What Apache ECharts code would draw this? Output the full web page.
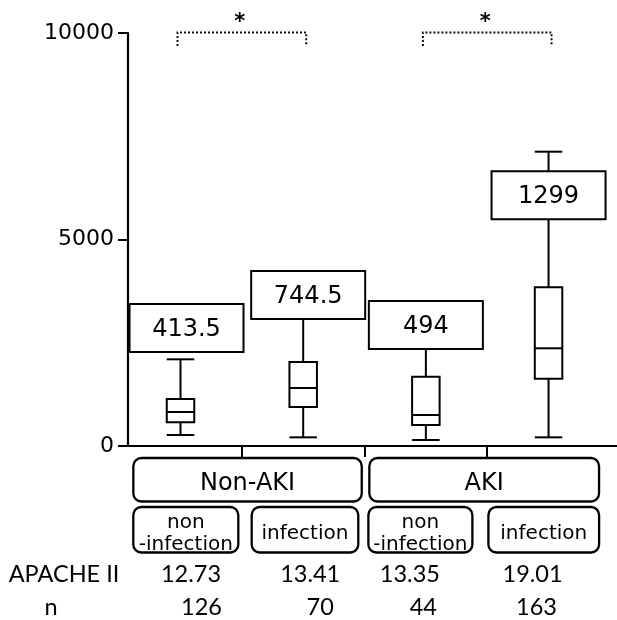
<!DOCTYPE html>
<html><head><meta charset="utf-8">
<script src="https://cdn.jsdelivr.net/npm/echarts@6/dist/echarts.min.js"></script>
<style>html,body{margin:0;padding:0;background:#fff}#c{width:617px;height:620px}</style>
</head><body><div id="c"></div>
<script>
// ---- data ----
const groups = ['Non-AKI', 'AKI'];
const groupCenters = [1.5, 3.5];
const subgroups = ['non\n-infection', 'infection', 'non\n-infection', 'infection'];
const positions = [1, 2, 3, 4];
const boxMin    = [266, 210, 145, 210];
const boxQ1     = [574, 944, 508, 1630];
const boxMedian = [823, 1404, 751, 2366];
const boxQ3     = [1138, 2034, 1678, 3843];
const boxMax    = [2099, 3075, 2349, 7126];
const boxLabels = ['413.5', '744.5', '494', '1299'];
const apache = ['12.73', '13.41', '13.35', '19.01'];
const counts = ['126', '70', '44', '163'];
const yTicks = [0, 5000, 10000];
const sigPairs = [[1, 2], [3, 4]];
const sigMarks = ['*', '*'];

// ---- layout (pixel offsets / sizes, not data) ----
const LAYOUT = {
  labelBottom: [2276, 3075, 2349, 5489],
  labelDx: [6, 5, 0, 0],
  subDx: [5.3, 1.8, -5.5, -4.8],
  subW: [105, 106.6, 104, 110.7],
  groupDx: [5.7, -3],
  groupW: [228.4, 229.7],
  apDx: [10.5, 7, -16, -16],
  nDx: [21, 17, -2.5, -12]
};

const BLACK = '#000';
const SANS = 'DejaVu Sans';
const ROWF = 'Lato';
const LW = 2;

const boxData = positions.map((p, i) => [p, boxMin[i], boxQ1[i], boxMedian[i], boxQ3[i], boxMax[i]]);
const labelData = positions.map((p, i) => [p, LAYOUT.labelBottom[i]]);
const subData = positions.map(p => [p, 0]);
const groupData = groupCenters.map(c => [c, 0]);
const sigData = sigPairs.map(pr => [pr[0], pr[1]]);

function renderBox(params, api) {
  const x = api.value(0);
  const c = v => api.coord([x, v]);
  const pMin = c(api.value(1)), pQ1 = c(api.value(2)), pMed = c(api.value(3)),
        pQ3 = c(api.value(4)), pMax = c(api.value(5));
  const hw = 13.75, X = pMed[0];
  const st = {stroke: BLACK, lineWidth: LW, fill: null};
  return {type: 'group', children: [
    {type: 'line', shape: {x1: X, y1: pMax[1], x2: X, y2: pQ3[1]}, style: st},
    {type: 'line', shape: {x1: X - hw, y1: pMax[1], x2: X + hw, y2: pMax[1]}, style: st},
    {type: 'line', shape: {x1: X, y1: pQ1[1], x2: X, y2: pMin[1]}, style: st},
    {type: 'line', shape: {x1: X - hw, y1: pMin[1], x2: X + hw, y2: pMin[1]}, style: st},
    {type: 'rect', shape: {x: X - hw, y: pQ3[1], width: 2 * hw, height: pQ1[1] - pQ3[1]},
      style: {stroke: BLACK, lineWidth: LW, fill: '#fff'}},
    {type: 'line', shape: {x1: X - hw, y1: pMed[1], x2: X + hw, y2: pMed[1]}, style: st}
  ]};
}

function renderLabel(params, api) {
  const i = params.dataIndex;
  const p = api.coord([api.value(0), api.value(1)]);
  const w = 114, h = 48;
  const cx = p[0] + LAYOUT.labelDx[i];
  const top = p[1] - h;
  return {type: 'group', children: [
    {type: 'rect', shape: {x: cx - w / 2, y: top, width: w, height: h},
      style: {stroke: BLACK, lineWidth: LW, fill: '#fff'}},
    {type: 'text', style: {x: cx, y: top + h / 2 + 1.5, text: boxLabels[i], align: 'center',
      verticalAlign: 'middle', font: '24px "' + SANS + '"', fill: BLACK}}
  ]};
}

function renderSub(params, api) {
  const i = params.dataIndex;
  const p = api.coord([api.value(0), 0]);
  const axisY = p[1];
  const cx = p[0] + LAYOUT.subDx[i];
  const w = LAYOUT.subW[i], top = axisY + 61, h = 45.5;
  const children = [
    {type: 'rect', shape: {x: cx - w / 2, y: top, width: w, height: h, r: 8},
      style: {stroke: BLACK, lineWidth: 2.3, fill: '#fff'}},
    {type: 'text', style: {x: cx, y: top + h / 2 + 4, text: subgroups[i], align: 'center',
      verticalAlign: 'middle', font: '20px "' + SANS + '"', lineHeight: 22, fill: BLACK}},
    {type: 'text', style: {x: p[0] + LAYOUT.apDx[i], y: axisY + 128, text: apache[i], align: 'center',
      verticalAlign: 'middle', font: '23.5px ' + ROWF, fill: BLACK}},
    {type: 'text', style: {x: p[0] + LAYOUT.nDx[i], y: axisY + 161, text: counts[i], align: 'center',
      verticalAlign: 'middle', font: '23.5px ' + ROWF, fill: BLACK}}
  ];
  if (i === 0) {
    const gl = api.coord([0.572, 0])[0];
    children.push(
      {type: 'text', style: {x: gl - 64, y: axisY + 128, text: 'APACHE II', align: 'center',
        verticalAlign: 'middle', font: '23.5px ' + ROWF, fill: BLACK}},
      {type: 'text', style: {x: gl - 77, y: axisY + 161, text: 'n', align: 'center',
        verticalAlign: 'middle', font: '23.5px ' + ROWF, fill: BLACK}}
    );
  }
  return {type: 'group', children: children};
}

function renderGroup(params, api) {
  const i = params.dataIndex;
  const p = api.coord([api.value(0), 0]);
  const cx = p[0] + LAYOUT.groupDx[i];
  const w = LAYOUT.groupW[i], top = p[1] + 12, h = 43.5;
  return {type: 'group', children: [
    {type: 'rect', shape: {x: cx - w / 2, y: top, width: w, height: h, r: 8},
      style: {stroke: BLACK, lineWidth: 2.3, fill: '#fff'}},
    {type: 'text', style: {x: cx, y: top + h / 2 + 4.5, text: groups[i], align: 'center',
      verticalAlign: 'middle', font: '24px "' + SANS + '"', fill: BLACK}}
  ]};
}

function renderSig(params, api) {
  const i = params.dataIndex;
  const p1 = api.coord([api.value(0), yTicks[yTicks.length - 1]]);
  const p2 = api.coord([api.value(1), yTicks[yTicks.length - 1]]);
  const x1 = p1[0] - 3, x2 = p2[0] + 3, y = p1[1] - 0.5, y2 = y + 13.5;
  const st = {stroke: '#111', lineWidth: 2, lineDash: [2, 2], fill: null};
  return {type: 'group', children: [
    {type: 'polyline', shape: {points: [[x1, y2], [x1, y], [x2, y], [x2, y2]]}, style: st},
    {type: 'text', style: {x: (x1 + x2) / 2 - 2, y: y - 10, text: sigMarks[i], align: 'center',
      verticalAlign: 'middle', font: 'bold 21px "' + SANS + '"', fill: BLACK}}
  ]};
}

const chart = echarts.init(document.getElementById('c'), null, {renderer: 'canvas'});
chart.setOption({
  animation: false,
  grid: {left: 128, right: 0, top: 33, bottom: 174, containLabel: false, outerBoundsMode: 'none'},
  xAxis: {
    type: 'value', min: 0.572, max: 4.558,
    axisLine: {show: true, onZero: true, lineStyle: {color: BLACK, width: 2.2}},
    axisTick: {show: true, customValues: [1.5, 2.5, 3.5], length: 11, lineStyle: {color: BLACK, width: 2}},
    axisLabel: {show: false},
    splitLine: {show: false}
  },
  yAxis: {
    type: 'value', min: yTicks[0], max: yTicks[yTicks.length - 1], interval: 5000,
    axisLine: {show: true, onZero: false, lineStyle: {color: BLACK, width: 2.2}},
    axisTick: {show: true, length: 10, lineStyle: {color: BLACK, width: 2}},
    axisLabel: {margin: 14, color: BLACK, fontFamily: SANS, fontSize: 22, formatter: v => String(v)},
    splitLine: {show: false}
  },
  series: [
    {type: 'custom', name: 'box', renderItem: renderBox, data: boxData, clip: false, z: 2,
      encode: {x: 0, y: [1, 2, 3, 4, 5]}, silent: true},
    {type: 'custom', name: 'labels', renderItem: renderLabel, data: labelData, clip: false, z: 3,
      encode: {x: 0, y: 1}, silent: true},
    {type: 'custom', name: 'sub', renderItem: renderSub, data: subData, clip: false, z: 2,
      encode: {x: 0, y: 1}, silent: true},
    {type: 'custom', name: 'group', renderItem: renderGroup, data: groupData, clip: false, z: 2,
      encode: {x: 0, y: 1}, silent: true},
    {type: 'custom', name: 'sig', renderItem: renderSig, data: sigData, clip: false, z: 2,
      encode: {x: [0, 1]}, silent: true}
  ]
});
</script></body></html>
